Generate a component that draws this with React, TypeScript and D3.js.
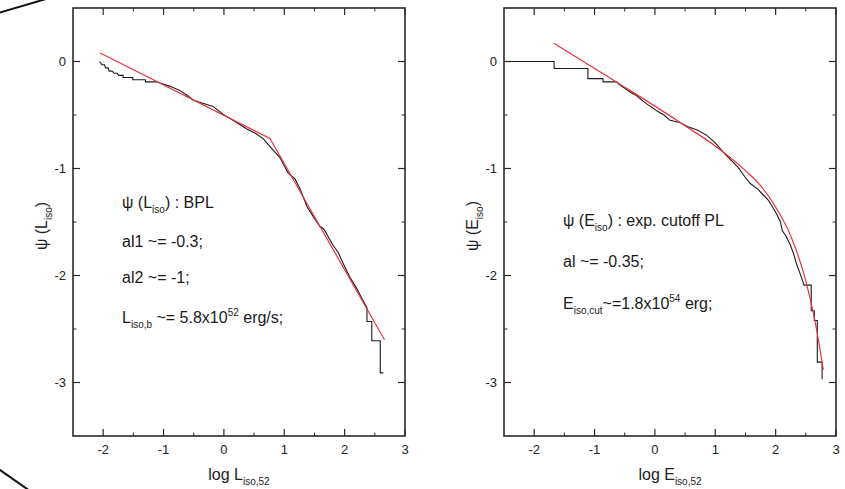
import React from "react";
import * as d3 from "d3";

const FONT = "'Liberation Sans', Arial, Helvetica, sans-serif";

// Tick values
const xMajorTicks = [-2, -1, 0, 1, 2, 3];
const xMinorTicks = [-1.5, -0.5, 0.5, 1.5, 2.5];
const yMajorTicks = [-3, -2, -1, 0];
const yMinorTicks = [-2.5, -1.5, -0.5];

// Left panel: cumulative luminosity function (step) and broken power law fit
const lumStep: [number, number][] = [
  [-2.06, 0], [-2.02, -0.03], [-1.98, -0.03], [-1.96, -0.06], [-1.92, -0.06],
  [-1.9, -0.09], [-1.85, -0.09], [-1.82, -0.11], [-1.77, -0.11], [-1.74, -0.13],
  [-1.67, -0.13], [-1.67, -0.15], [-1.51, -0.15], [-1.51, -0.17], [-1.3, -0.17],
  [-1.3, -0.19], [-1.11, -0.19], [-1.06, -0.2], [-0.9, -0.23], [-0.73, -0.27],
  [-0.6, -0.32], [-0.51, -0.36], [-0.35, -0.39], [-0.18, -0.42], [-0.02, -0.49],
  [0.21, -0.57], [0.38, -0.63], [0.52, -0.67], [0.65, -0.72], [0.71, -0.76],
  [0.82, -0.83], [0.93, -0.9], [1.06, -1.04], [1.12, -1.07], [1.18, -1.1],
  [1.26, -1.19], [1.38, -1.36], [1.48, -1.45], [1.59, -1.54], [1.66, -1.57],
  [1.72, -1.63], [1.81, -1.72], [1.89, -1.78], [1.97, -1.88], [2.09, -2.02],
  [2.2, -2.12], [2.29, -2.22], [2.37, -2.3], [2.37, -2.43], [2.45, -2.43],
  [2.45, -2.61], [2.59, -2.61], [2.59, -2.91], [2.64, -2.91],
];
const lumFit: [number, number][] = [
  [-2.05, 0.08], [0.763, -0.72], [2.66, -2.6],
];

// Right panel: cumulative energy function (step) and exp. cutoff PL fit
const enStep: [number, number][] = [
  [-2.5, 0], [-1.67, 0], [-1.67, -0.065], [-1.11, -0.065], [-1.11, -0.16],
  [-0.86, -0.16], [-0.86, -0.19], [-0.63, -0.19], [-0.6, -0.21], [-0.5, -0.25],
  [-0.4, -0.29], [-0.3, -0.32], [-0.2, -0.37], [-0.1, -0.41], [0.03, -0.46],
  [0.15, -0.5], [0.25, -0.55], [0.41, -0.57], [0.55, -0.61], [0.7, -0.64],
  [0.86, -0.69], [1.0, -0.76], [1.12, -0.84], [1.24, -0.91], [1.38, -0.99],
  [1.48, -1.07], [1.58, -1.14], [1.7, -1.19], [1.8, -1.25], [1.87, -1.29],
  [1.95, -1.36], [2.02, -1.43], [2.08, -1.5], [2.11, -1.58], [2.17, -1.63],
  [2.24, -1.71], [2.3, -1.8], [2.35, -1.9], [2.41, -1.99], [2.47, -2.09],
  [2.59, -2.09], [2.59, -2.33], [2.64, -2.33], [2.64, -2.42], [2.69, -2.42],
  [2.69, -2.81], [2.77, -2.81], [2.77, -2.97],
];
const enFit: [number, number][] = [
  [-1.67, 0.17], [-1.5, 0.11], [-1.0, -0.065], [-0.5, -0.24], [0, -0.417],
  [0.5, -0.6], [1.0, -0.79], [1.5, -1.02], [1.75, -1.16], [2.0, -1.36],
  [2.25, -1.63], [2.5, -2.05], [2.65, -2.42], [2.79, -2.88],
];

const X_DOMAIN: [number, number] = [-2.5, 3];
const Y_DOMAIN: [number, number] = [-3.5, 0.5];
const TOP = 8;
const BOTTOM = 436;

type PanelProps = {
  left: number;
  right: number;
  step: [number, number][];
  fit: [number, number][];
  smooth: boolean;
  letter: string;
  yTitleX: number;
  children?: React.ReactNode;
};

function Panel({ left, right, step, fit, smooth, letter, yTitleX, children }: PanelProps) {
  const x = d3.scaleLinear().domain(X_DOMAIN).range([left, right]);
  const y = d3.scaleLinear().domain(Y_DOMAIN).range([BOTTOM, TOP]);
  const line = d3
    .line<[number, number]>()
    .x((d) => x(d[0]))
    .y((d) => y(d[1]));
  const fitLine = d3
    .line<[number, number]>()
    .x((d) => x(d[0]))
    .y((d) => y(d[1]))
    .curve(smooth ? d3.curveMonotoneX : d3.curveLinear);
  const axisColor = "#2a2a2a";
  const major = 7;
  const minor = 3.5;
  return (
    <g>
      {xMajorTicks.map((t) => (
        <g key={"xM" + t}>
          <line x1={x(t)} x2={x(t)} y1={BOTTOM} y2={BOTTOM - major} stroke={axisColor} strokeWidth={1.2} />
          <line x1={x(t)} x2={x(t)} y1={TOP} y2={TOP + major} stroke={axisColor} strokeWidth={1.2} />
          <text x={x(t)} y={BOTTOM + 18} textAnchor="middle" fontSize={13} fontFamily={FONT} fill="#222">
            {t < 0 ? "-" + Math.abs(t) : String(t)}
          </text>
        </g>
      ))}
      {xMinorTicks.map((t) => (
        <g key={"xm" + t}>
          <line x1={x(t)} x2={x(t)} y1={BOTTOM} y2={BOTTOM - minor} stroke={axisColor} strokeWidth={1} />
          <line x1={x(t)} x2={x(t)} y1={TOP} y2={TOP + minor} stroke={axisColor} strokeWidth={1} />
        </g>
      ))}
      {yMajorTicks.map((t) => (
        <g key={"yM" + t}>
          <line x1={left} x2={left + major} y1={y(t)} y2={y(t)} stroke={axisColor} strokeWidth={1.2} />
          <line x1={right} x2={right - major} y1={y(t)} y2={y(t)} stroke={axisColor} strokeWidth={1.2} />
          <text x={left - 7} y={y(t) + 4.5} textAnchor="end" fontSize={13} fontFamily={FONT} fill="#222">
            {t < 0 ? "-" + Math.abs(t) : String(t)}
          </text>
        </g>
      ))}
      {yMinorTicks.map((t) => (
        <g key={"ym" + t}>
          <line x1={left} x2={left + minor} y1={y(t)} y2={y(t)} stroke={axisColor} strokeWidth={1} />
          <line x1={right} x2={right - minor} y1={y(t)} y2={y(t)} stroke={axisColor} strokeWidth={1} />
        </g>
      ))}
      <rect x={left} y={TOP} width={right - left} height={BOTTOM - TOP} fill="none" stroke={axisColor} strokeWidth={1.6} />
      <path d={line(step) || ""} fill="none" stroke="#1a1a1a" strokeWidth={1.1} />
      <path d={fitLine(fit) || ""} fill="none" stroke="#e8353c" strokeWidth={1.2} />
      <text x={(left + right) / 2} y={480} textAnchor="middle" fontSize={16} fontFamily={FONT} fill="#222">
        log {letter}
        <tspan fontSize={10} dy={5}>iso,52</tspan>
      </text>
      <text
        transform={`translate(${yTitleX},${(TOP + BOTTOM) / 2 + 4}) rotate(-90)`}
        textAnchor="middle"
        fontSize={16}
        fontFamily={FONT}
        fill="#222"
      >
        ψ ({letter}
        <tspan fontSize={10} dy={5}>iso</tspan>
        <tspan dy={-5}>)</tspan>
      </text>
      {children}
    </g>
  );
}

export default function App() {
  const T = { fontSize: 16, fontFamily: FONT, fill: "#1a1a1a" } as const;
  return (
    <svg
      width={845}
      height={489}
      style={{ position: "absolute", left: 0, top: 0, background: "#fff" }}
    >
      <rect x={0} y={0} width={845} height={489} fill="#fff" />
      <line x1={-2} y1={13} x2={46} y2={-1} stroke="#111" strokeWidth={2} />
      <line x1={-2} y1={468.5} x2={30} y2={491} stroke="#111" strokeWidth={2} />

      <Panel left={73} right={405} step={lumStep} fit={lumFit} smooth={false} letter="L" yTitleX={47}>
        <text x={122} y={208} {...T}>
          ψ (L<tspan fontSize={10} dy={5}>iso</tspan>
          <tspan dy={-5}>) : BPL</tspan>
        </text>
        <text x={122} y={247} {...T}>al1 ~= -0.3;</text>
        <text x={122} y={283} {...T}>al2 ~= -1;</text>
        <text x={122} y={323} {...T}>
          L<tspan fontSize={10} dy={5}>iso,b</tspan>
          <tspan dy={-5}> ~= 5.8x10</tspan>
          <tspan fontSize={10} dy={-7}>52</tspan>
          <tspan dy={7}> erg/s;</tspan>
        </text>
      </Panel>

      <Panel left={504} right={836} step={enStep} fit={enFit} smooth={true} letter="E" yTitleX={478}>
        <text x={563} y={226} {...T}>
          ψ (E<tspan fontSize={10} dy={5}>iso</tspan>
          <tspan dy={-5}>) : exp. cutoff PL</tspan>
        </text>
        <text x={563} y={267} {...T}>al ~= -0.35;</text>
        <text x={563} y={309} {...T}>
          E<tspan fontSize={10} dy={5}>iso,cut</tspan>
          <tspan dy={-5}>~=1.8x10</tspan>
          <tspan fontSize={10} dy={-7}>54</tspan>
          <tspan dy={7}> erg;</tspan>
        </text>
      </Panel>
    </svg>
  );
}
